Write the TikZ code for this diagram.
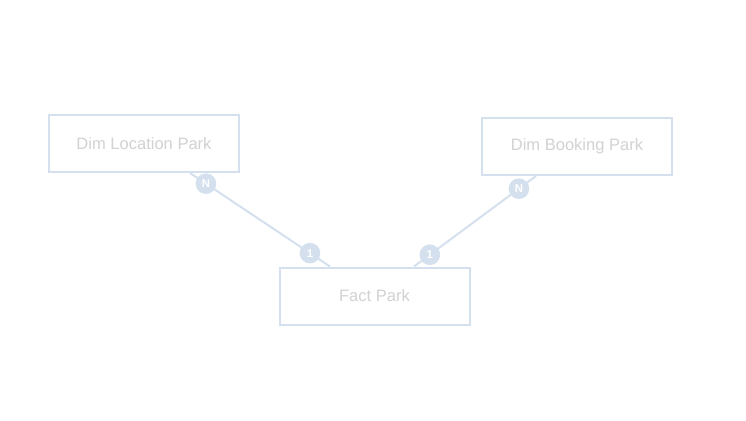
\documentclass[tikz,border=0pt]{standalone}
\usepackage{fontspec}
\setmainfont{Liberation Sans}
\usetikzlibrary{calc}
\definecolor{edgeblue}{HTML}{D5E0EE}
\definecolor{labelgrey}{HTML}{D2D2D2}

\begin{document}
\begin{tikzpicture}[x=0.75pt, y=-0.75pt, line width=1.5pt,
    table/.style={draw=edgeblue, fill=white, rectangle, inner sep=0pt,
      minimum width=142.5pt, minimum height=42.75pt, text=labelgrey,
      font=\fontsize{12.4}{15}\selectfont},
    badge/.style={circle, fill=edgeblue, inner sep=0pt, minimum size=15.5pt,
      text=white, font=\fontsize{8.5}{9}\selectfont\bfseries}]
      \useasboundingbox (0,0) rectangle (746,421);

      % tables
      \node [table, name=location] at (144, 143.5) {Dim Location Park};
      \node [table, name=booking] at (577, 146.5) {Dim Booking Park};
      \node [table, name=fact] at (374.5, 296) {Fact Park};

      % link ends
      \coordinate (location_end) at ($(location.south) + (46, 0)$);
      \coordinate (fact_left) at ($(fact.north) + (-44.5, 0)$);
      \coordinate (booking_end) at ($(booking.south) + (-41, 0)$);
      \coordinate (fact_right) at ($(fact.north) + (39.5, 0)$);

      \draw [-, edgeblue] (location_end) -- (fact_left);
      \draw [-, edgeblue] (booking_end) -- (fact_right);

      % cardinalities
      \node [badge, name=location_n] at ($(location_end)!0.114!(fact_left)$) {N};
      \node [badge, name=fact_one_left] at ($(location_end)!0.857!(fact_left)$) {1};
      \node [badge, name=booking_n] at ($(booking_end)!0.14!(fact_right)$) {N};
      \node [badge, name=fact_one_right] at ($(booking_end)!0.87!(fact_right)$) {1};
    \end{tikzpicture}
\end{document}
